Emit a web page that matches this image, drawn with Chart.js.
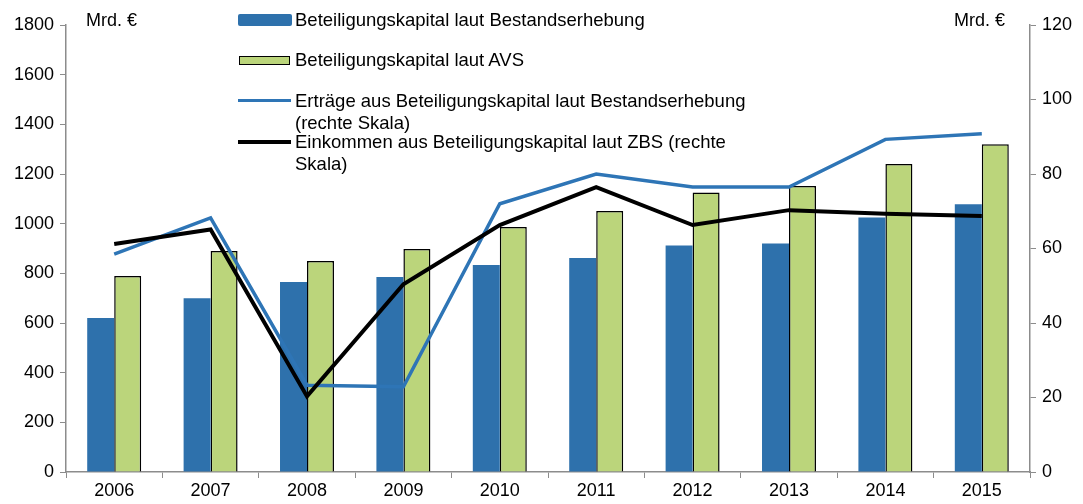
<!DOCTYPE html>
<html>
<head>
<meta charset="utf-8">
<script src="https://cdn.jsdelivr.net/npm/chart.js@4/dist/chart.umd.min.js"></script>
<style>
	body { margin: 0; background: #fff; font-family: "Liberation Sans", Arial, sans-serif; }
	#wrap { position: relative; width: 1083px; height: 504px; }
	.lbl { position: absolute; font-size: 18.5px; color: #000; line-height: 22px; white-space: nowrap; }
	.sym { position: absolute; }
</style>
</head>
<body>
<div id="wrap">
	<canvas id="chart" width="1083" height="504"></canvas>
	<div class="lbl" style="left:86px; top:9px; font-size:18px;">Mrd. €</div>
	<div class="lbl" style="left:954px; top:9px; font-size:18px;">Mrd. €</div>

	<div class="sym" style="left:238px; top:14px; width:54px; height:12px; background:#2E71AC; border-radius:2px;"></div>
	<div class="lbl" style="left:295px; top:9px;">Beteiligungskapital laut Bestandserhebung</div>

	<div class="sym" style="left:239px; top:56px; width:49px; height:7px; background:#BBD57B; border:1.5px solid #000;"></div>
	<div class="lbl" style="left:295px; top:49px;">Beteiligungskapital laut AVS</div>

	<div class="sym" style="left:238px; top:99px; width:53px; height:3px; background:#2E75B6;"></div>
	<div class="lbl" style="left:295px; top:90px;">Erträge aus Beteiligungskapital laut Bestandserhebung<br>(rechte Skala)</div>

	<div class="sym" style="left:238px; top:140px; width:53px; height:4px; background:#000;"></div>
	<div class="lbl" style="left:295px; top:131px;">Einkommen aus Beteiligungskapital laut ZBS (rechte<br>Skala)</div>
</div>
<script>
// --- Data ---
const years = ["2006", "2007", "2008", "2009", "2010", "2011", "2012", "2013", "2014", "2015"];
const kapitalBestand = [620, 700, 765, 785, 834, 862, 912, 920, 1025, 1078];
const kapitalAVS = [789, 890, 850, 898, 987, 1051, 1126, 1152, 1240, 1320];
const ertraegeBestand = [58.5, 68.2, 23.3, 22.9, 72, 80, 76.5, 76.5, 89.3, 90.8];
const einkommenZBS = [61.2, 65.1, 20.3, 50.4, 66.3, 76.5, 66.3, 70.3, 69.3, 68.7];
const leftTicks = [0, 200, 400, 600, 800, 1000, 1200, 1400, 1600, 1800];
const rightTicks = [0, 20, 40, 60, 80, 100, 120];

const axisColor = "#8c8c8c";
const tickFont = { family: "Liberation Sans, Arial, sans-serif", size: 18 };

document.addEventListener("DOMContentLoaded", function() {
	const ctx = document.getElementById("chart").getContext("2d");
	new Chart(ctx, {
		data: {
			labels: years,
			datasets: [
				{
					type: "bar",
					label: "Beteiligungskapital laut Bestandserhebung",
					data: kapitalBestand,
					yAxisID: "y",
					backgroundColor: "#2E71AC",
					borderWidth: 0,
					categoryPercentage: 0.56,
					barPercentage: 1,
					order: 2
				},
				{
					type: "bar",
					label: "Beteiligungskapital laut AVS",
					data: kapitalAVS,
					yAxisID: "y",
					backgroundColor: "#BBD57B",
					borderColor: "#000000",
					borderWidth: 1.5,
					categoryPercentage: 0.56,
					barPercentage: 1,
					order: 3
				},
				{
					type: "line",
					label: "Erträge aus Beteiligungskapital laut Bestandserhebung (rechte Skala)",
					data: ertraegeBestand,
					yAxisID: "y2",
					borderColor: "#2E75B6",
					borderWidth: 3.5,
					pointRadius: 0,
					tension: 0,
					order: 1
				},
				{
					type: "line",
					label: "Einkommen aus Beteiligungskapital laut ZBS (rechte Skala)",
					data: einkommenZBS,
					yAxisID: "y2",
					borderColor: "#000000",
					borderWidth: 4,
					pointRadius: 0,
					tension: 0,
					order: 0
				}
			]
		},
		options: {
			responsive: false,
			animation: false,
			layout: { padding: { top: 25, left: 0, right: 0, bottom: 0 } },
			plugins: {
				legend: { display: false },
				tooltip: { enabled: false }
			},
			scales: {
				x: {
					offset: true,
					grid: { offset: true, drawOnChartArea: false, color: axisColor, tickLength: 6 },
					border: { color: axisColor, width: 1.5 },
					ticks: { color: "#000", font: tickFont, padding: 2, maxRotation: 0 },
					afterFit: (scale) => { scale.height = 32; }
				},
				y: {
					position: "left",
					min: 0,
					max: 1800,
					afterBuildTicks: (scale) => { scale.ticks = leftTicks.map(v => ({ value: v })); },
					grid: { drawOnChartArea: false, color: axisColor, tickLength: 6 },
					border: { color: axisColor, width: 1.5 },
					ticks: { color: "#000", font: tickFont, padding: 6, callback: (v) => String(v) },
					afterFit: (scale) => { scale.width = 66; }
				},
				y2: {
					position: "right",
					min: 0,
					max: 120,
					afterBuildTicks: (scale) => { scale.ticks = rightTicks.map(v => ({ value: v })); },
					grid: { drawOnChartArea: false, color: axisColor, tickLength: 6 },
					border: { color: axisColor, width: 1.5 },
					ticks: { color: "#000", font: tickFont, padding: 6, callback: (v) => String(v) },
					afterFit: (scale) => { scale.width = 53; }
				}
			}
		}
	});
});
</script>
</body>
</html>
